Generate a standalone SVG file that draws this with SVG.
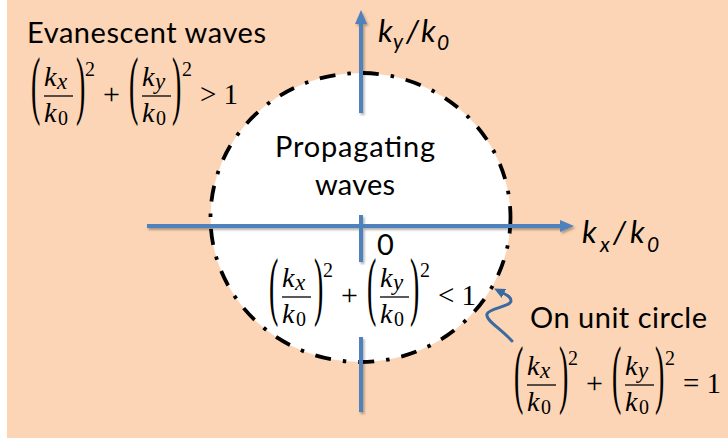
<svg xmlns="http://www.w3.org/2000/svg" width="728" height="438" viewBox="0 0 728 438">
<style>
.lbl{font-family:Lato,"Liberation Sans",sans-serif;font-size:29px;fill:#000}
.ax{font-family:Lato,"Liberation Sans",sans-serif;font-style:italic;fill:#000}
.m{font-family:"Liberation Serif","DejaVu Serif",serif;fill:#000}
.mi{font-family:"Liberation Serif","DejaVu Serif",serif;font-style:italic;fill:#000}
.axis{stroke:#4F81BD;stroke-width:4;fill:none}
.fl{stroke:#000;stroke-width:1.3}
</style>
<defs>
<filter id="sh" x="-20%" y="-20%" width="140%" height="140%">
<feDropShadow dx="1.5" dy="2" stdDeviation="1.2" flood-color="#000" flood-opacity="0.3"/>
</filter>
<marker id="ah" viewBox="0 0 14 12" refX="0" refY="6" markerWidth="14" markerHeight="12" markerUnits="userSpaceOnUse" orient="auto">
<path d="M0,0 L14,6 L0,12 z" fill="#4F81BD"/>
</marker>
<marker id="ah2" viewBox="0 0 11 10" refX="1" refY="5" markerWidth="11" markerHeight="10" markerUnits="userSpaceOnUse" orient="auto">
<path d="M0,0 L11,5 L0,10 z" fill="#3A6AA0"/>
</marker>
</defs>
<rect id="background" x="7" y="0" width="721" height="438" fill="#FBD5B5"/>
<g id="unit-circle">
<ellipse cx="360.5" cy="217.5" rx="150" ry="144.5" fill="#FFFFFF" stroke="#000" stroke-width="3.8" stroke-dasharray="16 12 3.5 12"/>
</g>
<g id="connectors">
<g filter="url(#sh)">
<line class="axis" x1="147" y1="226" x2="560" y2="226" marker-end="url(#ah)"/>
<line class="axis" x1="361" y1="412" x2="361" y2="337"/>
<line class="axis" x1="361" y1="262" x2="361" y2="215"/>
<line class="axis" x1="361" y1="113" x2="361" y2="24" marker-end="url(#ah)"/>
</g>
<path d="M 512 341 C 500 328 485 320 487 314 C 489 308 510 307 511 301 C 511 297 507 295 503 293" fill="none" stroke="#3A6AA0" stroke-width="3" stroke-linecap="round" marker-end="url(#ah2)"/>
</g>
<g id="ky-label">
<text class="ax" x="378" y="42" font-size="31">k</text>
<text class="ax" x="393" y="49" font-size="21">y</text>
<text class="ax" x="406" y="42" font-size="31">/</text>
<text class="ax" x="421" y="42" font-size="31">k</text>
<text class="ax" x="437" y="50" font-size="21">0</text>
</g>
<g id="kx-label">
<text class="ax" x="582" y="243" font-size="31">k</text>
<text class="ax" x="600" y="252" font-size="21">x</text>
<text class="ax" x="613" y="243" font-size="31">/</text>
<text class="ax" x="630" y="243" font-size="31">k</text>
<text class="ax" x="647" y="252" font-size="21">0</text>
</g>
<g id="origin-label">
<text class="lbl" x="377" y="255">0</text>
</g>
<g id="evanescent">
<text class="lbl" x="27" y="43" textLength="239">Evanescent waves</text>
<g transform="translate(32,96)">
<text class="m" font-size="28" transform="translate(-1,14) scale(1,2.7)">(</text>
<text class="mi" font-size="28" x="12" y="-10">k</text>
<text class="mi" font-size="23" x="25" y="-7">x</text>
<line class="fl" x1="12" y1="0" x2="41" y2="0"/>
<text class="mi" font-size="28" x="12" y="26">k</text>
<text class="m" font-size="20" x="26" y="29">0</text>
<text class="m" font-size="28" transform="translate(44,14) scale(1,2.7)">)</text>
<text class="m" font-size="20" x="53" y="-20">2</text>
<text class="m" font-size="30" x="71" y="8">+</text>
<text class="m" font-size="28" transform="translate(97,14) scale(1,2.7)">(</text>
<text class="mi" font-size="28" x="110" y="-10">k</text>
<text class="mi" font-size="23" x="123" y="-7">y</text>
<line class="fl" x1="110" y1="0" x2="139" y2="0"/>
<text class="mi" font-size="28" x="110" y="26">k</text>
<text class="m" font-size="20" x="124" y="29">0</text>
<text class="m" font-size="28" transform="translate(140,14) scale(1,2.7)">)</text>
<text class="m" font-size="20" x="150" y="-20">2</text>
<text class="m" font-size="29" x="168" y="8">&gt; 1</text>
</g>
</g>
<g id="propagating">
<text class="lbl" x="355" y="157" text-anchor="middle" textLength="160">Propagating</text>
<text class="lbl" x="355" y="195" text-anchor="middle" textLength="80">waves</text>
<g transform="translate(270,297)">
<text class="m" font-size="28" transform="translate(-1,14) scale(1,2.7)">(</text>
<text class="mi" font-size="28" x="12" y="-10">k</text>
<text class="mi" font-size="23" x="25" y="-7">x</text>
<line class="fl" x1="12" y1="0" x2="41" y2="0"/>
<text class="mi" font-size="28" x="12" y="26">k</text>
<text class="m" font-size="20" x="26" y="29">0</text>
<text class="m" font-size="28" transform="translate(44,14) scale(1,2.7)">)</text>
<text class="m" font-size="20" x="53" y="-20">2</text>
<text class="m" font-size="30" x="71" y="8">+</text>
<text class="m" font-size="28" transform="translate(97,14) scale(1,2.7)">(</text>
<text class="mi" font-size="28" x="110" y="-10">k</text>
<text class="mi" font-size="23" x="123" y="-7">y</text>
<line class="fl" x1="110" y1="0" x2="139" y2="0"/>
<text class="mi" font-size="28" x="110" y="26">k</text>
<text class="m" font-size="20" x="124" y="29">0</text>
<text class="m" font-size="28" transform="translate(140,14) scale(1,2.7)">)</text>
<text class="m" font-size="20" x="150" y="-20">2</text>
<text class="m" font-size="29" x="168" y="8">&lt; 1</text>
</g>
</g>
<g id="on-unit-circle">
<text class="lbl" x="530" y="328" textLength="177">On unit circle</text>
<g transform="translate(515,385)">
<text class="m" font-size="28" transform="translate(-1,14) scale(1,2.7)">(</text>
<text class="mi" font-size="28" x="12" y="-10">k</text>
<text class="mi" font-size="23" x="25" y="-7">x</text>
<line class="fl" x1="12" y1="0" x2="41" y2="0"/>
<text class="mi" font-size="28" x="12" y="26">k</text>
<text class="m" font-size="20" x="26" y="29">0</text>
<text class="m" font-size="28" transform="translate(44,14) scale(1,2.7)">)</text>
<text class="m" font-size="20" x="53" y="-20">2</text>
<text class="m" font-size="30" x="71" y="8">+</text>
<text class="m" font-size="28" transform="translate(97,14) scale(1,2.7)">(</text>
<text class="mi" font-size="28" x="110" y="-10">k</text>
<text class="mi" font-size="23" x="123" y="-7">y</text>
<line class="fl" x1="110" y1="0" x2="139" y2="0"/>
<text class="mi" font-size="28" x="110" y="26">k</text>
<text class="m" font-size="20" x="124" y="29">0</text>
<text class="m" font-size="28" transform="translate(140,14) scale(1,2.7)">)</text>
<text class="m" font-size="20" x="150" y="-20">2</text>
<text class="m" font-size="29" x="168" y="8">= 1</text>
</g>
</g>
</svg>
